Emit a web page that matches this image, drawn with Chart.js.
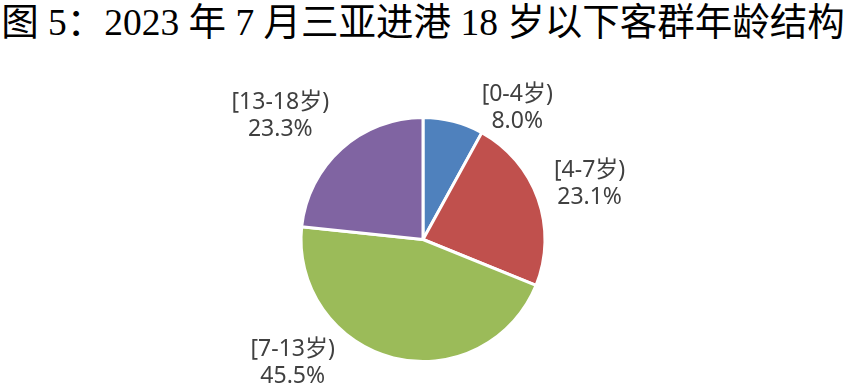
<!DOCTYPE html>
<html>
<head>
<meta charset="utf-8">
<script src="https://cdn.jsdelivr.net/npm/chart.js@4.4.0/dist/chart.umd.min.js"></script>
<style>
    html, body { margin: 0; padding: 0; background: #fff; }
    #wrap { position: relative; width: 846px; height: 392px; overflow: hidden; }
    #title {
        position: absolute; left: 0; top: 0; width: 846px; text-align: center;
        font-family: "Liberation Serif", "Noto Sans CJK SC", serif;
        font-size: 37.5px; color: #000; white-space: nowrap; line-height: 46px;
    }
    #chart { position: absolute; left: 0; top: 0; }
</style>
</head>
<body>
<div id="wrap">
    <div id="title">图 5：2023 年 7 月三亚进港 18 岁以下客群年龄结构</div>
    <canvas id="chart" width="846" height="392"></canvas>
</div>
<script>
const categories = ['[0-4岁)', '[4-7岁)', '[7-13岁)', '[13-18岁)'];
const shares = [8.0, 23.1, 45.5, 23.3];
const sliceColors = ['#4F81BD', '#C0504D', '#9BBB59', '#8064A2'];

// where each label sits: angle (deg, 0 = 3 o'clock, clockwise) and distance as a multiple of the radius
const labelPlacement = [
    { angle: -54.5, dist: 1.33 },
    { angle: -18.5, dist: 1.44 },
    { angle: 136.6, dist: 1.47 },
    { angle: -139.0, dist: 1.55 }
];

const outsideLabels = {
    id: 'outsideLabels',
    afterDatasetsDraw(chart) {
        const ctx = chart.ctx;
        const meta = chart.getDatasetMeta(0);
        ctx.save();
        ctx.font = '23px "Noto Sans", "Noto Sans CJK SC", sans-serif';
        ctx.fillStyle = '#404040';
        ctx.textAlign = 'center';
        ctx.textBaseline = 'middle';
        meta.data.forEach((arc, i) => {
            const p = labelPlacement[i];
            const a = p.angle * Math.PI / 180;
            const x = arc.x + Math.cos(a) * arc.outerRadius * p.dist;
            const y = arc.y + Math.sin(a) * arc.outerRadius * p.dist;
            ctx.fillText(categories[i], x, y - 13);
            ctx.fillText(shares[i].toFixed(1) + '%', x, y + 14);
        });
        ctx.restore();
    }
};

new Chart(document.getElementById('chart'), {
    type: 'pie',
    data: {
        labels: categories,
        datasets: [{
            data: shares,
            backgroundColor: sliceColors,
            borderColor: '#FFFFFF',
            borderWidth: 3
        }]
    },
    options: {
        responsive: false,
        animation: false,
        layout: { padding: { top: 116, bottom: 29, left: 200, right: 200 } },
        plugins: {
            legend: { display: false },
            tooltip: { enabled: false }
        }
    },
    plugins: [outsideLabels]
});
</script>
</body>
</html>
